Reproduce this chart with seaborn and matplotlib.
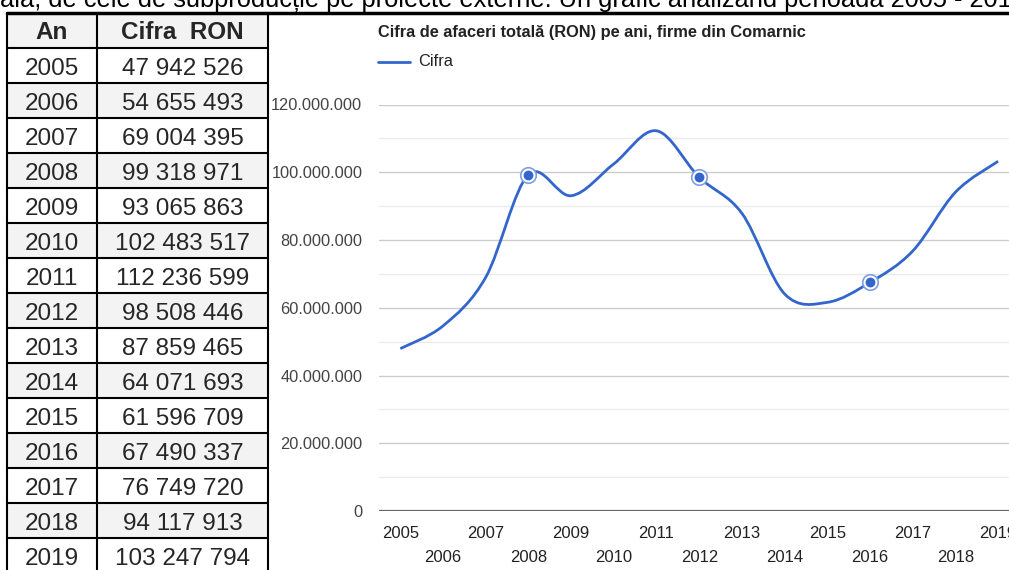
import numpy as np
import matplotlib
matplotlib.use("Agg")
import matplotlib.pyplot as plt
import seaborn as sns
from matplotlib.path import Path
from matplotlib.patches import PathPatch, Rectangle
from matplotlib import font_manager

years = [2005, 2006, 2007, 2008, 2009, 2010, 2011, 2012,
         2013, 2014, 2015, 2016, 2017, 2018, 2019]
cifra = [47942526, 54655493, 69004395, 99318971, 93065863,
         102483517, 112236599, 98508446, 87859465, 64071693,
         61596709, 67490337, 76749720, 94117913, 103247794]
highlighted = [2008, 2012, 2016]
y_ticks = [0, 20000000, 40000000, 60000000, 80000000, 100000000, 120000000]
table_header = ["An", "Cifra  RON"]
title = "Cifra de afaceri totală (RON) pe ani, firme din Comarnic"
series_name = "Cifra"
intro_text = "ală, de cele de subproducție pe proiecte externe. Un grafic analizând perioada 2005 - 2019"

W, H = 1009, 570
BLUE = "#3366cc"

sns.set_style("white")
plt.rcParams["font.family"] = ["Liberation Sans", "DejaVu Sans"]

installed = {f.name for f in font_manager.fontManager.ttflist}
if "Liberation Sans Narrow" in installed:
    table_font, table_size = ["Liberation Sans Narrow", "Liberation Sans"], 20.5
else:
    table_font, table_size = ["Liberation Sans", "DejaVu Sans"], 17.5


def px_box(x0, y0, x1, y1):
    # pixel box with top-left origin -> figure fraction rect
    return [x0 / W, 1 - y1 / H, (x1 - x0) / W, (y1 - y0) / H]


fig = plt.figure(figsize=(W / 100, H / 100), dpi=100)

# page layer in pixel coordinates (table, text above the chart)
page = fig.add_axes([0, 0, 1, 1])
page.set_xlim(0, W)
page.set_ylim(H, 0)
page.axis("off")

page.text(0, 6.5, intro_text, fontsize=18.3, va="baseline", ha="left", color="black")

# --- table ---
row_h = 35
top = 13
left, mid, right = 7, 97, 268
page.add_patch(Rectangle((left, top), right - left, row_h, color="#f3f3f3", lw=0))
page.text((left + mid) / 2, top + 26, table_header[0], family=table_font, fontsize=table_size,
          fontweight="bold", ha="center", va="baseline")
page.text((mid + right) / 2, top + 26, table_header[1], family=table_font, fontsize=table_size,
          fontweight="bold", ha="center", va="baseline")
for i, (yr, val) in enumerate(zip(years, cifra)):
    y0 = top + row_h * (i + 1)
    if i % 2 == 1:
        page.add_patch(Rectangle((left, y0), right - left, row_h, color="#f3f3f3", lw=0))
    page.plot([left, right], [y0, y0], color="black", lw=1.5)
    page.text((left + mid) / 2, y0 + 27, str(yr), family=table_font, fontsize=table_size,
              ha="center", va="baseline")
    page.text((mid + right) / 2, y0 + 27, f"{val:,}".replace(",", " "), family=table_font,
              fontsize=table_size, ha="center", va="baseline")
for x in (left, mid, right):
    page.plot([x, x], [top, H + 5], color="black", lw=1.5)
page.plot([left, W + 5], [top, top], color="black", lw=2.5)

# --- chart title and legend ---
page.text(378, 37, title, fontsize=11.8, fontweight="bold", color="#222222", va="baseline")
page.plot([378, 410], [62, 62], color=BLUE, lw=2)
page.text(418, 62, series_name, fontsize=11.8, color="#222222", va="center")

# --- chart ---
step = 42.7
ax = fig.add_axes(px_box(379, 104.5, 379 + 15 * step, 511))
ax.set_xlim(years[0] - 0.5, years[-1] + 0.5)
ax.set_ylim(0, 120000000)

# smooth curve through the points (cubic bezier, catmull-rom style)
x = np.array(years, dtype=float)
y = np.array(cifra, dtype=float)
xp = np.r_[x[0], x, x[-1]]
yp = np.r_[y[0], y, y[-1]]
verts = [(x[0], y[0])]
for i in range(len(x) - 1):
    c1 = (x[i] + (xp[i + 2] - xp[i]) / 6, y[i] + (yp[i + 2] - yp[i]) / 6)
    c2 = (x[i + 1] - (xp[i + 3] - xp[i + 1]) / 6, y[i + 1] - (yp[i + 3] - yp[i + 1]) / 6)
    verts += [c1, c2, (x[i + 1], y[i + 1])]
codes = [Path.MOVETO] + [Path.CURVE4] * (3 * (len(x) - 1))
ax.add_patch(PathPatch(Path(verts, codes), facecolor="none", edgecolor=BLUE, lw=2,
                       zorder=3, clip_on=False))

hx = [yr for yr in years if yr in highlighted]
hy = [v for yr, v in zip(years, cifra) if yr in highlighted]
sns.scatterplot(x=hx, y=hy, ax=ax, s=125, color="white", edgecolor="#7f9ee0", linewidth=1.2,
                zorder=4, legend=False)
sns.scatterplot(x=hx, y=hy, ax=ax, s=50, color=BLUE, edgecolor=BLUE, linewidth=0,
                zorder=5, legend=False)

ax.set_yticks(y_ticks)
ax.set_yticks([v + 10000000 for v in y_ticks[:-1]], minor=True)
ax.set_yticklabels([f"{v:,}".replace(",", ".") for v in y_ticks], fontsize=11.8, color="#444444")
ax.grid(True, which="major", axis="y", color="#cccccc", lw=1)
ax.grid(True, which="minor", axis="y", color="#ebebeb", lw=1)
ax.grid(False, axis="x")
ax.axhline(0, color="#666666", lw=1.6, zorder=2)
ax.set_xticks(years)
ax.set_xticklabels([str(yr) if i % 2 == 0 else "\n" + str(yr) for i, yr in enumerate(years)],
                   fontsize=12, color="#222222")
for lbl in ax.get_xticklabels():
    lbl.set_linespacing(1.75)
ax.tick_params(axis="both", which="both", length=0)
ax.tick_params(axis="y", pad=12)
ax.tick_params(axis="x", pad=11)
for s in ax.spines.values():
    s.set_visible(False)
ax.set_facecolor("none")
ax.set_xlabel("")
ax.set_ylabel("")

fig.savefig("out.png", dpi=100)
